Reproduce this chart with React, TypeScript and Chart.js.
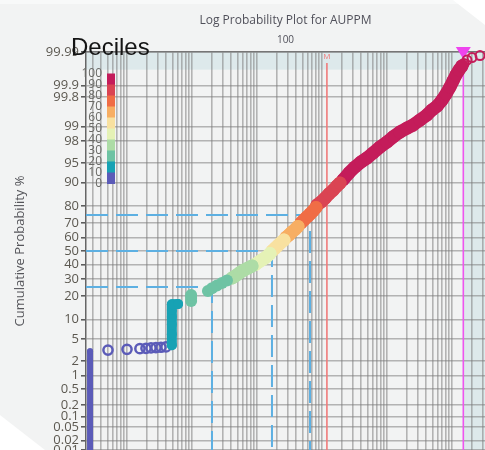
import React, { useEffect, useRef } from 'react';
import { Chart, LinearScale, registerables } from 'chart.js';

Chart.register(...registerables);

// ---------- axes ----------
const X_MIN = 0.00234;
const X_MAX = 3219;
const Y_MIN_PROB = 0.01;
const Y_MAX_PROB = 99.99;

const Y_TICK_PROBS = [0.01, 0.02, 0.05, 0.1, 0.2, 0.5, 1, 2, 5, 10, 20, 30, 40, 50, 60, 70, 80, 90, 95, 98, 99, 99.8, 99.9, 99.99];
const Y_TICK_LABELS = ['0.01', '0.02', '0.05', '0.1', '0.2', '0.5', '1', '2', '5', '10', '20', '30', '40', '50', '60', '70', '80', '90', '95', '98', '99', '99.8', '99.9', '99.99'];

const X_GRID_MANTISSAS = [1, 2, 3, 4, 5, 6, 7, 8, 9];
const X_GRID_DECADES = [0.001, 0.01, 0.1, 1, 10, 100, 1000];

const TITLE = 'Log Probability Plot for AUPPM';
const X_TITLE = '100';
const Y_TITLE = 'Cumulative Probability %';
const LEGEND_TITLE = 'Deciles';
const DECILE_LABELS = ['0', '10', '20', '30', '40', '50', '60', '70', '80', '90', '100'];
const DECILE_COLORS = ['#5b5bb8', '#17a2b4', '#6ec3a4', '#addca6', '#e5f2b6', '#f8e1a0', '#f7ae63', '#f06d46', '#da4453', '#c41c5a'];

// ---------- data (value ppm, cumulative probability %) ----------
const STACK_VALUES = [0.0027, 0.0027, 0.0027, 0.0027, 0.0027, 0.0027, 0.0027, 0.0027, 0.0027];
const STACK_PROBS = [0.0101, 0.02, 0.05, 0.1, 0.2, 0.5, 1, 2, 3.05];

const D0_ROW_VALUES = [0.0051, 0.01, 0.0158, 0.0196, 0.0234, 0.0279, 0.0333, 0.0398];
const D0_ROW_PROBS = [3.2, 3.3, 3.4, 3.45, 3.5, 3.55, 3.6, 3.65];

const D1_VALUES = [0.049, 0.049, 0.049, 0.049, 0.049, 0.049, 0.061];
const D1_PROBS = [3.9, 6, 8.5, 11, 13.5, 16.0, 16.1];

const D2_VALUES = [0.097, 0.097, 0.097, 0.176, 0.203, 0.242, 0.289, 0.345];
const D2_PROBS = [17.5, 19.0, 20.5, 22.7, 24.3, 25.9, 27.5, 29.1];

const D3_VALUES = [0.413, 0.475, 0.548, 0.631, 0.727, 0.838];
const D3_PROBS = [30.7, 32.35, 34.4, 36.1, 37.5, 39.0];

const D4_VALUES = [0.932, 1.036, 1.15, 1.28, 1.42, 1.585];
const D4_PROBS = [40.0, 41.5, 42.95, 44.4, 45.9, 48.1];

const D5_VALUES = [1.7, 1.89, 2.1, 2.34, 2.6];
const D5_PROBS = [50.0, 52.0, 54.1, 56.3, 58.1];

const D6_VALUES = [2.79, 3.11, 3.45, 3.84, 4.27];
const D6_PROBS = [60.0, 61.8, 63.9, 65.6, 67.7];

const D7_VALUES = [4.75, 5.28, 5.88, 6.54, 7.27, 8.08];
const D7_PROBS = [70.0, 71.9, 73.8, 75.5, 77.3, 79.2];

const D8_VALUES = [8.38, 9.65, 11.1, 12.8, 14.8, 17.0, 18.9];
const D8_PROBS = [80.5, 82.0, 83.8, 85.7, 87.2, 88.8, 89.8];

const D9_VALUES = [21.0, 26.0, 32.2, 39.8, 49.2, 60.9, 78.0, 100, 124, 158, 203, 251, 322, 412, 492, 588, 702, 809, 931, 1036, 1153, 1282, 1426];
const D9_PROBS = [90.8, 92.76, 94.18, 95.19, 95.89, 96.65, 97.4, 97.92, 98.35, 98.69, 98.92, 99.07, 99.28, 99.45, 99.58, 99.66, 99.76, 99.833, 99.891, 99.926, 99.95, 99.964, 99.973];

const TOP_VALUES = [1531, 1702, 2032, 2698];
const TOP_PROBS = [99.977, 99.982, 99.985, 99.987];

const QUARTILE_PROBS = [25, 50, 75];
const QUARTILE_VALUES = [0.203, 1.7, 6.54];
const MEAN_VALUE = 11.9;
const TOP_CUT_VALUE = 1493;
const TOP_BAND_PROB = 99.965;

// ---------- helpers ----------
const FONT = '"Open Sans", "Noto Sans", sans-serif';
const BG = '#f2f3f3';
const BAND = '#dde9eb';
const GRID = 'rgba(120,120,120,0.52)';
const W = 485;
const H = 450;

function probit(pct: number): number {
  let p = pct / 100;
  p = Math.min(Math.max(p, 1e-12), 1 - 1e-12);
  const a = [-3.969683028665376e1, 2.209460984245205e2, -2.759285104469687e2, 1.38357751867269e2, -3.066479806614716e1, 2.506628277459239];
  const b = [-5.447609879822406e1, 1.615858368580409e2, -1.556989798598866e2, 6.680131188771972e1, -1.328068155288572e1];
  const c = [-7.784894002430293e-3, -3.223964580411365e-1, -2.400758277161838, -2.549732539343734, 4.374664141464968, 2.938163982698783];
  const d = [7.784695709041462e-3, 3.224671290700398e-1, 2.445134137142996, 3.754408661907416];
  const pl = 0.02425;
  if (p < pl) {
    const q = Math.sqrt(-2 * Math.log(p));
    return (((((c[0] * q + c[1]) * q + c[2]) * q + c[3]) * q + c[4]) * q + c[5]) / ((((d[0] * q + d[1]) * q + d[2]) * q + d[3]) * q + 1);
  }
  if (p <= 1 - pl) {
    const q = p - 0.5;
    const r = q * q;
    return ((((((a[0] * r + a[1]) * r + a[2]) * r + a[3]) * r + a[4]) * r + a[5]) * q) / (((((b[0] * r + b[1]) * r + b[2]) * r + b[3]) * r + b[4]) * r + 1);
  }
  const q = Math.sqrt(-2 * Math.log(1 - p));
  return -(((((c[0] * q + c[1]) * q + c[2]) * q + c[3]) * q + c[4]) * q + c[5]) / ((((d[0] * q + d[1]) * q + d[2]) * q + d[3]) * q + 1);
}

function normCdf(z: number): number {
  const t = 1 / (1 + 0.3275911 * Math.abs(z) / Math.SQRT2);
  const y = 1 - (((((1.061405429 * t - 1.453152027) * t) + 1.421413741) * t - 0.284496736) * t + 0.254829592) * t * Math.exp(-z * z / 2);
  return z >= 0 ? (1 + y) / 2 : (1 - y) / 2;
}

class ProbabilityScale extends (LinearScale as any) {
  static id = 'probability';
  determineDataLimits() {
    const o: any = this.options;
    this.min = o.min;
    this.max = o.max;
  }
  buildTicks() {
    return Y_TICK_PROBS.map((value) => ({ value }));
  }
  configure() {
    super.configure();
    this._zMin = probit(this.min);
    this._zMax = probit(this.max);
  }
  getPixelForValue(value: number) {
    return this.getPixelForDecimal((probit(value) - this._zMin) / (this._zMax - this._zMin));
  }
  getValueForPixel(pixel: number) {
    return 100 * normCdf(this._zMin + this.getDecimalForPixel(pixel) * (this._zMax - this._zMin));
  }
}
Chart.register(ProbabilityScale as any);

// thick marks must not shrink the plot area (the reference plot runs to the page edges)
const ScatterCtl: any = (Chart as any).registry.getController('scatter');
ScatterCtl.prototype.getMaxOverflow = function () {
  return 0;
};

const X_GRID_VALUES: number[] = [];
X_GRID_DECADES.forEach((dec) => X_GRID_MANTISSAS.forEach((m) => {
  const v = m * dec;
  if (v >= X_MIN && v <= X_MAX) X_GRID_VALUES.push(v);
}));

const pts = (vals: number[], probs: number[]) => vals.map((v, i) => ({ x: v, y: probs[i] }));

function bandSet(vals: number[], probs: number[], color: string, showLine: boolean, width = 13) {
  return {
    data: pts(vals, probs),
    showLine,
    borderColor: color,
    backgroundColor: color,
    borderWidth: width,
    borderCapStyle: 'round',
    borderJoinStyle: 'round',
    pointRadius: width / 2,
    pointBackgroundColor: color,
    pointBorderColor: color,
    pointBorderWidth: 0,
    clip: 8,
  };
}

function hollowSet(vals: number[], probs: number[], color: string, r: number, bw: number) {
  return {
    data: pts(vals, probs),
    showLine: false,
    borderColor: color,
    backgroundColor: 'rgba(0,0,0,0)',
    pointRadius: r,
    pointBackgroundColor: 'rgba(0,0,0,0)',
    pointBorderColor: color,
    pointBorderWidth: bw,
    clip: false,
  };
}

const TITLE_SIZE = 12;
const TITLE_PAD = 13;

const decorPlugin = {
  id: 'decor',
  beforeDraw(chart: any) {
    const { ctx, chartArea: a, scales } = chart;
    const x = scales.x;
    const y = scales.y;
    ctx.save();
    ctx.fillStyle = BG;
    ctx.fillRect(0, 0, chart.width, chart.height);
    ctx.fillStyle = '#f8f9f9';
    ctx.fillRect(0, 0, chart.width, 4);
    ctx.fillStyle = BAND;
    const yb = y.getPixelForValue(TOP_BAND_PROB);
    ctx.fillRect(a.left, a.top, a.right - a.left, yb - a.top);
    const xb = x.getPixelForValue(TOP_CUT_VALUE);
    ctx.fillRect(xb, a.top, a.right - xb, a.bottom - a.top);
    ctx.restore();
  },
  beforeDatasetsDraw(chart: any) {
    const { ctx, chartArea: a, scales } = chart;
    const x = scales.x;
    const y = scales.y;
    ctx.save();
    ctx.strokeStyle = '#5db0e2';
    ctx.lineWidth = 2;
    ctx.setLineDash([22, 8]);
    QUARTILE_PROBS.forEach((p, i) => {
      const px = x.getPixelForValue(QUARTILE_VALUES[i]);
      const py = y.getPixelForValue(p);
      ctx.beginPath();
      ctx.moveTo(a.left, py);
      ctx.lineTo(px, py);
      ctx.lineTo(px, a.bottom);
      ctx.stroke();
    });
    ctx.setLineDash([]);
    const xm = x.getPixelForValue(MEAN_VALUE);
    ctx.strokeStyle = '#f07a7a';
    ctx.lineWidth = 1.6;
    ctx.beginPath();
    ctx.moveTo(xm, a.top + 11);
    ctx.lineTo(xm, a.bottom);
    ctx.stroke();
    ctx.fillStyle = '#f07a7a';
    ctx.font = `8px ${FONT}`;
    ctx.textAlign = 'center';
    ctx.textBaseline = 'middle';
    ctx.fillText('M', xm, a.top + 5);
    const xc = x.getPixelForValue(TOP_CUT_VALUE);
    ctx.strokeStyle = '#ee55ee';
    ctx.lineWidth = 1.6;
    ctx.beginPath();
    ctx.moveTo(xc, a.top + 4);
    ctx.lineTo(xc, a.bottom);
    ctx.stroke();
    ctx.fillStyle = '#ee44ee';
    ctx.beginPath();
    ctx.moveTo(xc - 7.5, a.top - 5);
    ctx.lineTo(xc + 7.5, a.top - 5);
    ctx.lineTo(xc, a.top + 7);
    ctx.closePath();
    ctx.fill();
    ctx.restore();
  },
  afterDraw(chart: any) {
    const { ctx } = chart;
    ctx.save();
    const barTop = 73.5;
    const binH = 11;
    const barX = 107;
    const barW = 8;
    for (let i = 0; i < 10; i++) {
      ctx.fillStyle = DECILE_COLORS[9 - i];
      ctx.fillRect(barX, barTop + i * binH, barW, binH + 0.5);
    }
    ctx.fillStyle = '#6a6a66';
    ctx.font = `12px ${FONT}`;
    ctx.textAlign = 'right';
    ctx.textBaseline = 'middle';
    DECILE_LABELS.forEach((lab, j) => {
      ctx.fillText(lab, 102, barTop + (10 - j) * binH);
    });
    ctx.fillStyle = '#141414';
    ctx.font = '24px "Liberation Sans", Arial, sans-serif';
    ctx.textAlign = 'left';
    ctx.textBaseline = 'alphabetic';
    ctx.fillText(LEGEND_TITLE, 71, 55);
    ctx.fillStyle = '#ffffff';
    ctx.beginPath();
    ctx.moveTo(453, 0);
    ctx.lineTo(W, 0);
    ctx.lineTo(W, 25);
    ctx.closePath();
    ctx.fill();
    ctx.beginPath();
    ctx.moveTo(0, 415);
    ctx.lineTo(0, H);
    ctx.lineTo(45, H);
    ctx.closePath();
    ctx.fill();
    ctx.restore();
  },
};

export default function App() {
  const ref = useRef<HTMLCanvasElement>(null);
  useEffect(() => {
    const datasets: any[] = [
      bandSet(D1_VALUES, D1_PROBS, DECILE_COLORS[1], true, 10),
      hollowSet(D0_ROW_VALUES, D0_ROW_PROBS, DECILE_COLORS[0], 4.6, 2.5),
      { ...bandSet(STACK_VALUES, STACK_PROBS, DECILE_COLORS[0], true, 6), pointRadius: 3 },
      bandSet(D2_VALUES, D2_PROBS, DECILE_COLORS[2], false, 12),
      bandSet(D3_VALUES, D3_PROBS, DECILE_COLORS[3], true),
      bandSet(D4_VALUES, D4_PROBS, DECILE_COLORS[4], true),
      bandSet(D5_VALUES, D5_PROBS, DECILE_COLORS[5], true),
      bandSet(D6_VALUES, D6_PROBS, DECILE_COLORS[6], true),
      bandSet(D7_VALUES, D7_PROBS, DECILE_COLORS[7], true),
      bandSet(D8_VALUES, D8_PROBS, DECILE_COLORS[8], true),
      bandSet(D9_VALUES, D9_PROBS, DECILE_COLORS[9], true),
      hollowSet(TOP_VALUES, TOP_PROBS, DECILE_COLORS[9], 4.5, 2),
    ];
    const chart = new Chart(ref.current as HTMLCanvasElement, {
      type: 'scatter',
      data: { datasets },
      options: {
        animation: false,
        responsive: false,
        devicePixelRatio: 1,
        events: [],
        layout: { padding: 0 },
        plugins: {
          legend: { display: false },
          tooltip: { enabled: false },
          title: {
            display: true,
            text: TITLE,
            fullSize: false,
            color: '#50505a',
            font: { size: TITLE_SIZE, family: FONT, weight: 'normal' },
            padding: { top: TITLE_PAD, bottom: 0 },
          },
        },
        scales: {
          x: {
            type: 'logarithmic',
            position: 'top',
            min: X_MIN,
            max: X_MAX,
            afterBuildTicks: (s: any) => {
              s.ticks = X_GRID_VALUES.map((value) => ({ value }));
            },
            afterFit: (s: any) => {
              s.height = 52 - (TITLE_SIZE * 1.2 + TITLE_PAD);
              s.paddingLeft = 0;
              s.paddingRight = 0;
            },
            ticks: { display: false },
            grid: { color: GRID, lineWidth: 1.6, drawTicks: false },
            border: { display: true, color: '#767676', width: 1.5 },
            title: {
              display: true,
              text: X_TITLE,
              color: '#50505a',
              font: { size: 10, family: FONT },
              padding: { top: 6.6, bottom: 0 },
            },
          },
          y: {
            type: 'probability',
            position: 'left',
            min: Y_MIN_PROB,
            max: Y_MAX_PROB,
            afterFit: (s: any) => {
              s.width = 86;
              s.paddingTop = 0;
              s.paddingBottom = 0;
            },
            ticks: {
              autoSkip: false,
              padding: 2,
              color: '#5c5850',
              font: { size: 13, family: FONT },
              callback: (_v: any, i: number) => Y_TICK_LABELS[i],
            },
            grid: { color: GRID, lineWidth: 1.6, tickLength: 5, tickColor: '#555', tickWidth: 1.5 },
            border: { display: true, color: '#666', width: 1.5 },
            title: {
              display: true,
              text: Y_TITLE,
              color: '#55555a',
              font: { size: 13, family: FONT },
              padding: { top: 12.2, bottom: 0 },
            },
          },
        } as any,
      },
      plugins: [decorPlugin],
    } as any);
    return () => chart.destroy();
  }, []);
  return (
    <div style={{ position: 'fixed', left: 0, top: 0, width: W, height: H, overflow: 'hidden', background: BG }}>
      <canvas ref={ref} width={W} height={H} style={{ display: 'block', width: W, height: H }} />
    </div>
  );
}
